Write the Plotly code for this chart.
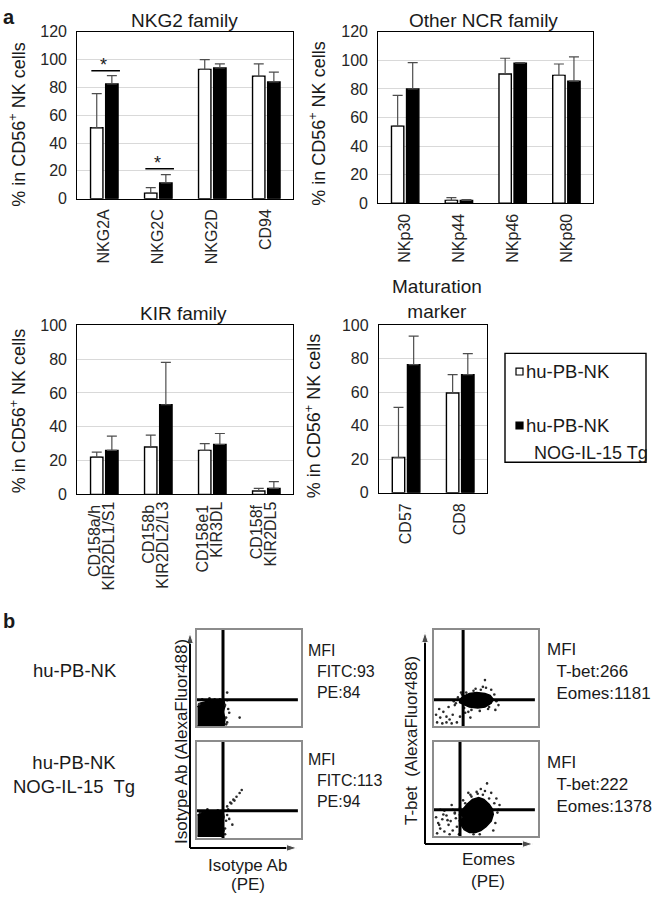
import plotly.graph_objects as go

W, H = 660, 906
FONT = "Liberation Sans, Arial, sans-serif"

# ---------------- data: panel a (mean and upper SD, % in CD56+ NK cells) ----------------
series_names = ["hu-PB-NK", "hu-PB-NK NOG-IL-15 Tg"]

nkg2_cats = ["NKG2A", "NKG2C", "NKG2D", "CD94"]
nkg2_pb = [51, 4, 93, 88]
nkg2_pb_sd = [24.5, 4, 7, 9]
nkg2_tg = [82.5, 11.3, 94, 84]
nkg2_tg_sd = [6, 6, 3, 7]
nkg2_sig_idx = [0, 1]
nkg2_sig_y = [92, 21.5]

ncr_cats = ["NKp30", "NKp44", "NKp46", "NKp80"]
ncr_pb = [54, 2, 90.5, 89.5]
ncr_pb_sd = [21.5, 2, 11, 8]
ncr_tg = [80, 2, 98, 85.5]
ncr_tg_sd = [18.5, 0.5, 0.5, 17]

kir_line1 = ["CD158a/h", "CD158b", "CD158e1", "CD158f"]
kir_line2 = ["KIR2DL1/S1", "KIR2DL2/L3", "KIR3DL", "KIR2DL5"]
kir_pb = [22, 28, 26, 2]
kir_pb_sd = [3, 7, 4, 1.5]
kir_tg = [26, 53, 29.5, 3.5]
kir_tg_sd = [8.5, 25, 6.5, 4]

mat_cats = ["CD57", "CD8"]
mat_pb = [21, 59.5]
mat_pb_sd = [30, 11]
mat_tg = [76.5, 70.5]
mat_tg_sd = [17, 12.5]

# ---------------- data: panel b (flow cytometry, approximate, % of axis) ----------------
row_labels = ["hu-PB-NK", "hu-PB-NK<br>NOG-IL-15  Tg"]
iso_mfi = [["FITC:93", "PE:84"], ["FITC:113", "PE:94"]]
tf_mfi = [["T-bet:266", "Eomes:1181"], ["T-bet:222", "Eomes:1378"]]

gate_x = [25, 25, 28, 25]
gate_y = [27.5, 28.5, 27.5, 28]

dense_x = [
    [0.5, 26, 27, 25, 27, 26, 20, 10, 3, 0.5],
    [0.5, 24, 26, 24, 26, 25, 15, 5, 0.5],
    [24, 28, 34, 41, 49, 54, 57, 55, 49, 42, 34, 28, 24],
    [24, 28, 32, 37, 43, 48, 53, 56, 57, 55, 50, 45, 40, 34, 29, 26, 24],
]
dense_y = [
    [0.5, 0.5, 8, 15, 21, 26, 27, 26, 24, 20],
    [2, 2, 8, 15, 22, 27, 28, 27, 24],
    [27, 31, 34, 35, 34, 32, 28, 24, 20, 19, 20, 23, 25],
    [22, 29, 34, 39, 41, 39, 34, 29, 23, 16, 10, 6, 4, 4, 7, 12, 17],
]
sparse_x = [
    [29, 41, 28, 30, 29, 31, 27, 28, 22, 12, 5, 2, 29, 17],
    [29, 32, 35, 38, 41, 43, 34, 29, 31, 30, 33, 27, 28, 20, 10, 3, 27, 36],
    [3, 8, 12, 17, 22, 5, 9, 14, 12, 18, 20, 6, 25, 30, 35, 49, 59, 62, 26, 50, 55, 2, 15,
     45, 38, 31, 58, 60, 52, 44, 36, 29, 21, 27, 40, 47, 53, 23, 19, 33],
    [3, 6, 10, 14, 8, 12, 16, 18, 20, 5, 2, 15, 22, 24, 10, 6, 18, 51, 63, 62, 60, 33, 45, 55,
     13, 21, 28, 35, 41, 47, 53, 58, 61, 59, 57, 38, 44, 30, 25, 20, 17, 49, 42, 36, 26, 9, 4],
]
sparse_y = [
    [35, 9, 9, 18, 4, 14, 22, 2, 28, 29, 28, 23, 27, 28],
    [33, 37, 40, 43, 47, 50, 14, 24, 20, 30, 36, 4, 18, 29, 30, 27, 10, 39],
    [4, 3, 4, 3, 4, 18, 15, 20, 10, 12, 22, 9, 10, 14, 9, 48, 17, 22, 35, 40, 38, 12, 7,
     38, 37, 35, 33, 26, 18, 16, 17, 19, 24, 33, 39, 41, 20, 30, 26, 15],
    [3, 8, 5, 12, 18, 22, 16, 6, 24, 12, 20, 2, 10, 2, 27, 28, 28, 56, 33, 28, 40, 46, 50, 46,
     17, 19, 38, 44, 47, 44, 40, 35, 25, 14, 6, 2, 2, 35, 30, 25, 33, 48, 45, 42, 20, 23, 14],
]

# ---------------- helpers (positions in window pixels) ----------------
def px(x):
    return x / W

def py(y):
    return 1 - y / H

def dom_x(a, b):
    return [px(a), px(b)]

def dom_y(top, bottom):
    return [py(bottom), py(top)]

fig = go.Figure()
layout = {}
annotations = []

def ann(text, x, y, size=18, angle=0, xanchor="center", yanchor="middle", **kw):
    d = dict(text=text, x=px(x), y=py(y), xref="paper", yref="paper", showarrow=False,
             textangle=angle, xanchor=xanchor, yanchor=yanchor,
             font=dict(family=FONT, size=size, color="#1a1a1a"))
    d.update(kw)
    annotations.append(d)

# ---------------- panel a: bar charts ----------------
panels = [
    dict(cats=nkg2_cats, pb=nkg2_pb, pbsd=nkg2_pb_sd, tg=nkg2_tg, tgsd=nkg2_tg_sd,
         ymax=120, xpx=(77.3, 293.3), ypx=(24.3, 194.3)),
    dict(cats=ncr_cats, pb=ncr_pb, pbsd=ncr_pb_sd, tg=ncr_tg, tgsd=ncr_tg_sd,
         ymax=120, xpx=(378.3, 593.3), ypx=(24.3, 199)),
    dict(cats=kir_line1, pb=kir_pb, pbsd=kir_pb_sd, tg=kir_tg, tgsd=kir_tg_sd,
         ymax=100, xpx=(77.3, 293.3), ypx=(323.3, 495.7)),
    dict(cats=mat_cats, pb=mat_pb, pbsd=mat_pb_sd, tg=mat_tg, tgsd=mat_tg_sd,
         ymax=100, xpx=(379, 487.3), ypx=(323.3, 494)),
]

tickfont = dict(family=FONT, size=16, color="#262626")

for i, p in enumerate(panels, start=1):
    xa = "x" if i == 1 else f"x{i}"
    ya = "y" if i == 1 else f"y{i}"
    idx = list(range(len(p["cats"])))
    n = len(idx)
    for vals, sd, fill, name in [(p["pb"], p["pbsd"], "white", series_names[0]),
                                 (p["tg"], p["tgsd"], "black", series_names[1])]:
        fig.add_trace(go.Bar(
            x=idx, y=vals, name=name, xaxis=xa, yaxis=ya, showlegend=False,
            marker=dict(color=fill, line=dict(color="black", width=1.4)),
            error_y=dict(type="data", array=sd, arrayminus=[0] * n, symmetric=False,
                         color="#4d4d4d", thickness=1.2, width=5),
        ))
    tv = [v - 0.18 for v in idx] if i == 3 else idx
    layout["xaxis" if i == 1 else f"xaxis{i}"] = dict(
        domain=dom_x(*p["xpx"]), anchor=ya, range=[-0.5, n - 0.5],
        tickmode="array", tickvals=tv, ticktext=p["cats"], tickangle=-90,
        showline=True, mirror=True, linecolor="black", linewidth=1.3,
        showgrid=False, zeroline=False, ticks="", tickfont=tickfont,
        ticklabelstandoff=3, fixedrange=True)
    layout["yaxis" if i == 1 else f"yaxis{i}"] = dict(
        domain=dom_y(*p["ypx"]), anchor=xa, range=[0, p["ymax"]], tick0=0, dtick=20,
        showgrid=True, gridcolor="#d9d9d9", gridwidth=1, showline=True, mirror=True,
        linecolor="black", linewidth=1.3, zeroline=False, ticks="", tickfont=tickfont,
        ticklabelstandoff=6, fixedrange=True)

# second line of the KIR labels on a matching overlay axis
layout["xaxis10"] = dict(
    domain=dom_x(77.3, 293.3), anchor="y3", overlaying="x3", range=[-0.5, 3.5],
    tickmode="array", tickvals=[v + 0.08 for v in range(len(kir_line2))], ticktext=kir_line2,
    tickangle=-90, showline=False, showgrid=False, zeroline=False, ticks="",
    tickfont=tickfont, ticklabelstandoff=3, fixedrange=True, side="bottom")
fig.add_trace(go.Scatter(x=[0], y=[0], xaxis="x10", yaxis="y3", mode="markers",
                         marker=dict(size=0.1, opacity=0), showlegend=False, hoverinfo="skip"))

# significance bars (panel NKG2)
for ci, yv in zip(nkg2_sig_idx, nkg2_sig_y):
    fig.add_trace(go.Scatter(x=[ci - 0.24, ci + 0.29], y=[yv, yv], mode="lines",
                             line=dict(color="black", width=1.3), xaxis="x", yaxis="y",
                             showlegend=False, hoverinfo="skip"))
    annotations.append(dict(text="*", x=ci - 0.02, y=yv, xref="x", yref="y", showarrow=False,
                            yanchor="bottom", yshift=-6,
                            font=dict(family=FONT, size=18, color="#1a1a1a")))

# titles and y labels
ann("<b>a</b>", 9, 9, size=20)
ann("NKG2 family", 185, 13, size=19)
ann("Other NCR family", 484, 13, size=19)
ann("KIR family", 183, 311, size=19)
ann("Maturation<br>marker", 437, 297, size=19)
ylab = "% in CD56<sup>+</sup> NK cells"
ann(ylab, 18, 119, angle=-90)
ann(ylab, 318, 118, angle=-90)
ann(ylab, 18, 411, angle=-90)
ann(ylab, 313, 416, angle=-90)

# legend box
shapes = []
shapes.append(dict(type="rect", xref="paper", yref="paper", x0=px(505), x1=px(646),
                   y0=py(463), y1=py(352), line=dict(color="black", width=1.4)))
shapes.append(dict(type="rect", xref="paper", yref="paper", x0=px(516), x1=px(523),
                   y0=py(374), y1=py(367), line=dict(color="black", width=1.2), fillcolor="white"))
shapes.append(dict(type="rect", xref="paper", yref="paper", x0=px(516), x1=px(523),
                   y0=py(429), y1=py(422), line=dict(color="black", width=1.2), fillcolor="black"))
ann("hu-PB-NK", 524, 370, size=18.5, xanchor="left")
ann("hu-PB-NK", 524, 425, size=18.5, xanchor="left")
ann("NOG-IL-15 Tg", 532, 454, size=18, xanchor="left")

# ---------------- panel b: flow plots ----------------
ann("<b>b</b>", 9, 625, size=20)
ann(row_labels[0], 75, 675, size=18.5)
ann(row_labels[1], 74, 781, size=18.5)

flow_boxes = [
    dict(xpx=(197, 301), ypx=(634, 732)),
    dict(xpx=(197, 301), ypx=(748, 846)),
    dict(xpx=(434, 538), ypx=(634, 732)),
    dict(xpx=(434, 538), ypx=(748, 844)),
]
for k, b in enumerate(flow_boxes):
    i = 5 + k
    xa, ya = f"x{i}", f"y{i}"
    fig.add_trace(go.Scatter(x=dense_x[k], y=dense_y[k], mode="lines", fill="toself",
                             fillcolor="black", line=dict(color="black", width=1.5),
                             xaxis=xa, yaxis=ya, showlegend=False, hoverinfo="skip"))
    fig.add_trace(go.Scatter(x=sparse_x[k], y=sparse_y[k], mode="markers",
                             marker=dict(color="#2a2a2a", size=2.6),
                             xaxis=xa, yaxis=ya, showlegend=False, hoverinfo="skip"))
    fig.add_trace(go.Scatter(x=[gate_x[k], gate_x[k]], y=[0, 100], mode="lines",
                             line=dict(color="black", width=3), xaxis=xa, yaxis=ya,
                             showlegend=False, hoverinfo="skip"))
    fig.add_trace(go.Scatter(x=[0, 97], y=[gate_y[k], gate_y[k]], mode="lines",
                             line=dict(color="black", width=3), xaxis=xa, yaxis=ya,
                             showlegend=False, hoverinfo="skip"))
    common = dict(showline=True, mirror=True, linecolor="#8c8c8c", linewidth=2,
                  showgrid=False, zeroline=False, showticklabels=False, ticks="",
                  tickmode="array", tickvals=[], range=[0, 100], fixedrange=True)
    layout[f"xaxis{i}"] = dict(domain=dom_x(*b["xpx"]), anchor=ya, **common)
    layout[f"yaxis{i}"] = dict(domain=dom_y(*b["ypx"]), anchor=xa, **common)

# axis arrows of the flow plots, on a window-pixel overlay axis
layout["xaxis9"] = dict(domain=[0, 1], anchor="y9", range=[0, W], visible=False, fixedrange=True)
layout["yaxis9"] = dict(domain=[0, 1], anchor="x9", range=[H, 0], visible=False, fixedrange=True)
arrows = [((190, 856), (190, 637)), ((190, 856), (297, 856)),
          ((425, 852), (425, 636)), ((425, 852), (533, 852))]
for (x0, y0), (x1, y1) in arrows:
    fig.add_trace(go.Scatter(
        x=[x0, x1], y=[y0, y1], xaxis="x9", yaxis="y9", mode="lines+markers",
        line=dict(color="black", width=2),
        marker=dict(symbol="arrow", size=[0, 11], angleref="previous", color="black"),
        showlegend=False, hoverinfo="skip"))

ann("Isotype Ab (AlexaFluor488)", 182, 748, angle=-90, size=17)
ann("Isotype Ab", 248, 874, size=17)
ann("(PE)", 248, 893, size=17)
ann("T-bet  (AlexaFluor488)", 412, 747, angle=-90, size=17)
ann("Eomes", 488, 868, size=17)
ann("(PE)", 488, 890, size=17)

# MFI texts (one block per plot)
iso_block_y = [676, 787]
for r in range(2):
    txt = "MFI<br>&nbsp;&nbsp;" + iso_mfi[r][0] + "<br>&nbsp;&nbsp;" + iso_mfi[r][1]
    ann(txt, 306, iso_block_y[r], size=16, xanchor="left", align="left")
tf_block_y = [676, 791]
for r in range(2):
    txt = "MFI<br>&nbsp;&nbsp;" + tf_mfi[r][0] + "<br>&nbsp;&nbsp;" + tf_mfi[r][1]
    ann(txt, 545, tf_block_y[r], size=17, xanchor="left", align="left")

fig.update_layout(
    width=W, height=H, margin=dict(l=0, r=0, t=0, b=0),
    paper_bgcolor="white", plot_bgcolor="rgba(0,0,0,0)",
    barmode="group", bargap=0.44, bargroupgap=0.18,
    font=dict(family=FONT, size=16, color="#1a1a1a"),
    annotations=annotations, shapes=shapes, showlegend=False,
    **layout,
)

fig.write_html("out.html", config={"displayModeBar": False},
               post_script="document.body.style.margin='0';document.body.style.overflow='hidden';")
